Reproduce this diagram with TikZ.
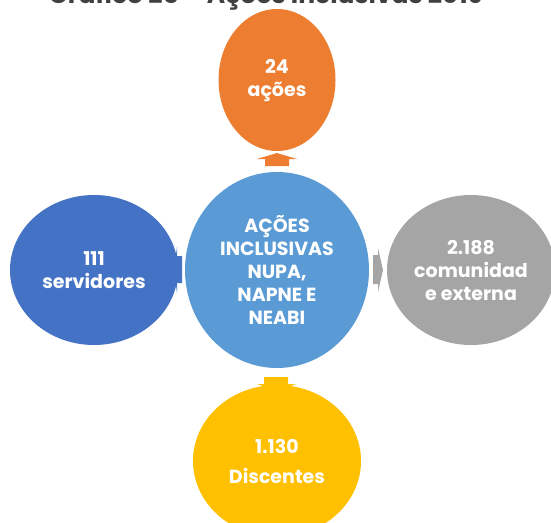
\documentclass[tikz,border=0pt]{standalone}
\usepackage{fontspec}
\setmainfont{Poppins}
\usetikzlibrary{shapes.geometric}
\definecolor{hubblue}{HTML}{5B9BD5}
\definecolor{acorange}{HTML}{ED7D31}
\definecolor{srvblue}{HTML}{4472C4}
\definecolor{comgray}{HTML}{A5A5A5}
\definecolor{disgold}{HTML}{FFC000}
\definecolor{titlegray}{HTML}{404040}
\tikzset{
  bubble/.style={ellipse, inner sep=0pt, text=white, align=center,
    font=\bfseries\fontsize{19}{23}\selectfont},
}
\begin{document}
\begin{tikzpicture}[x=1pt, y=-1pt]
  \useasboundingbox (0,0) rectangle (551,522);
  % title, cut off by the page edge
  \node[anchor=base, text=titlegray, font=\bfseries\fontsize{25}{28}\selectfont] (title) at (266,4) {Gráfico 25 – Ações Inclusivas 2019};
  % bubbles
  \node[bubble, fill=hubblue, minimum width=184pt, minimum height=196pt] (hub) at (277,270) {AÇÕES\\INCLUSIVAS\\NUPA,\\NAPNE E\\NEABI};
  \node[bubble, fill=acorange, minimum width=117pt, minimum height=142pt] (acoes) at (277,80) {24\\ações};
  \node[bubble, fill=srvblue, minimum width=168pt, minimum height=150pt] (srv) at (94,270) {111\\servidores};
  \node[bubble, fill=comgray, minimum width=168pt, minimum height=150pt] (com) at (471,270) {2.188\\comunidad\\e externa};
  \node[bubble, fill=disgold, minimum width=168pt, minimum height=152pt] (dis) at (277,461) {1.130\\[7pt]Discentes};
  % arrows
  \fill[acorange] (257,159) -- (277,153) -- (297,159) -- (289,159) -- (289,166) -- (265,166) -- (265,159) -- cycle;
  \fill[disgold] (264,377) -- (288,377) -- (288,384) -- (296,384) -- (277,391) -- (257,384) -- (264,384) -- cycle;
  \fill[srvblue] (182,256) -- (182,283) -- (177,283) -- (177,293) -- (174,270) -- (177,247) -- (177,256) -- cycle;
  \fill[comgray] (373,255) -- (378,255) -- (378,248) -- (383,270) -- (378,292) -- (378,284) -- (373,284) -- cycle;
\end{tikzpicture}
\end{document}
